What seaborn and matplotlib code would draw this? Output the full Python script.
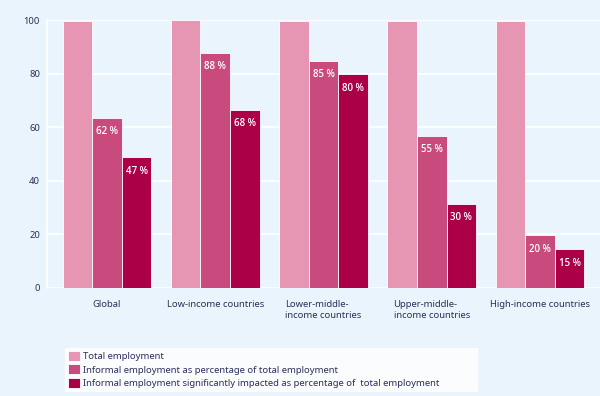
import pandas as pd
import matplotlib.pyplot as plt
import seaborn as sns

# data
regions = [
    "Global",
    "Low-income countries",
    "Lower-middle-\nincome countries",
    "Upper-middle-\nincome countries",
    "High-income countries",
]
series = [
    "Total employment",
    "Informal employment as percentage of total employment",
    "Informal employment significantly impacted as percentage of  total employment",
]
total = [99.5, 100, 99.5, 99.5, 99.5]
informal = [63.4, 87.8, 84.8, 56.7, 19.6]
impacted = [48.7, 66.4, 79.7, 31.3, 14.3]
informal_labels = ["62 %", "88 %", "85 %", "55 %", "20 %"]
impacted_labels = ["47 %", "68 %", "80 %", "30 %", "15 %"]

colors = ["#e695b3", "#c94b7d", "#ab0047"]
bg = "#eaf4fc"
ink = "#2b2f5b"


def main():
    rows = []
    for name, vals in zip(series, [total, informal, impacted]):
        for r, v in zip(regions, vals):
            rows.append({"region": r, "series": name, "value": v})
    df = pd.DataFrame(rows)

    sns.set_style("white")
    plt.rcParams["font.family"] = ["Noto Sans", "DejaVu Sans"]

    fig = plt.figure(figsize=(6, 3.96), dpi=100, facecolor=bg)
    ax = fig.add_axes([47 / 600, 108.3 / 396, 553 / 600, 267.7 / 396])
    ax.set_facecolor(bg)

    sns.barplot(
        data=df, x="region", y="value", hue="series",
        palette=colors, width=0.82, edgecolor="white", linewidth=0.6,
        saturation=1, ax=ax, legend=True,
    )

    ax.set_ylim(0, 100)
    ax.set_xlim(-0.555, 4.555)
    ax.set_yticks(range(0, 101, 20))
    ax.grid(axis="y", color="white", linewidth=1.2)
    ax.set_axisbelow(True)
    for s in ["top", "right", "bottom"]:
        ax.spines[s].set_visible(False)
    ax.spines["left"].set_color("white")
    ax.spines["left"].set_linewidth(1.2)
    ax.tick_params(axis="both", length=0, colors=ink, labelsize=6.8)
    ax.tick_params(axis="y", pad=5)
    ax.tick_params(axis="x", pad=9)
    for lab in ax.get_xticklabels():
        lab.set_multialignment("left")
    ax.set_xlabel("")
    ax.set_ylabel("")

    for cont, labels in zip(ax.containers[1:], [informal_labels, impacted_labels]):
        ax.bar_label(cont, labels=labels, label_type="edge", padding=-14,
                     color="white", fontsize=7, fontweight="semibold",
                     family=["Open Sans", "DejaVu Sans"])

    handles, labels = ax.get_legend_handles_labels()
    ax.get_legend().remove()
    leg = fig.legend(
        handles, labels, loc="lower left", mode="expand",
        bbox_to_anchor=(65 / 600, 5 / 396, 412 / 600, 46 / 396),
        frameon=True, fancybox=False,
        fontsize=6.8, handlelength=1.25, handleheight=1.25, handletextpad=0.35,
        labelspacing=0.32, borderpad=0.35, borderaxespad=0,
    )
    leg.get_frame().set_facecolor("white")
    leg.get_frame().set_edgecolor("white")
    for t in leg.get_texts():
        t.set_color(ink)

    fig.savefig("out.png", dpi=100, facecolor=bg)


if __name__ == "__main__":
    main()
